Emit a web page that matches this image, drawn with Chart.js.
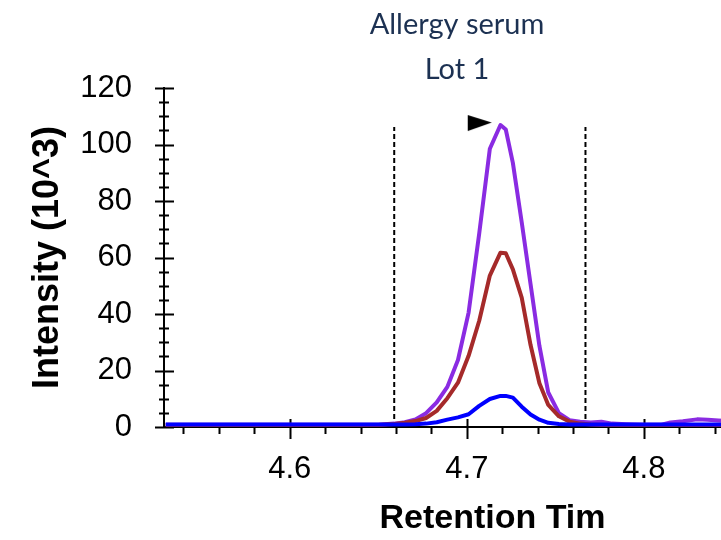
<!DOCTYPE html>
<html>
<head>
<meta charset="utf-8">
<script src="https://cdn.jsdelivr.net/npm/chart.js@4"></script>
<style>
  html, body { margin: 0; padding: 0; background: #fff; overflow: hidden; }
  #wrap { width: 914px; height: 540px; }
</style>
</head>
<body>
<div id="wrap"><canvas id="chromatogram" width="914" height="540"></canvas></div>
<script>
// retention time (min) and intensity (10^3)
const times = [4.530, 4.545, 4.560, 4.575, 4.590, 4.605, 4.620, 4.635, 4.650, 4.659,
  4.665, 4.671, 4.677, 4.683, 4.689, 4.695, 4.701, 4.707, 4.713, 4.719,
  4.722, 4.726, 4.731, 4.736, 4.741, 4.746, 4.752, 4.758, 4.764, 4.770,
  4.776, 4.782, 4.790, 4.800, 4.810, 4.815, 4.822, 4.830, 4.836, 4.842,
  4.850, 4.865, 4.880, 4.900];
const violetTrace = [0.8, 0.8, 0.8, 0.8, 0.8, 0.8, 0.8, 0.8, 0.8, 1.2,
  1.7, 2.7, 4.9, 8.7, 14.2, 23.7, 40.5, 68.5, 98.5, 106.9,
  105.3, 93.5, 72.5, 50.5, 28.7, 12.2, 4.9, 2.4, 1.9, 1.6,
  1.9, 1.2, 1.0, 0.8, 0.8, 1.6, 2.0, 2.7, 2.6, 2.3,
  2.0, 1.6, 1.3, 1.0];
const brownTrace = [0.7, 0.7, 0.7, 0.7, 0.7, 0.7, 0.7, 0.7, 0.7, 1.1,
  1.5, 2.1, 3.2, 5.7, 10.2, 15.7, 25.2, 37.6, 53.6, 61.7,
  61.5, 55.8, 45.8, 29.0, 15.5, 7.8, 3.8, 1.9, 1.2, 0.9,
  0.7, 0.7, 0.7, 0.7, 0.7, 0.7, 0.7, 0.7, 0.7, 0.7,
  0.7, 0.7, 0.7, 0.7];
const blueTrace = [0.9, 0.9, 0.9, 0.9, 0.9, 0.9, 0.9, 0.9, 0.9, 0.9,
  0.9, 1.0, 1.2, 1.7, 2.6, 3.4, 4.5, 7.5, 9.9, 11.0,
  11.0, 10.4, 7.2, 4.4, 2.6, 1.5, 1.1, 0.9, 0.9, 0.9,
  0.9, 0.9, 0.9, 0.9, 0.9, 0.9, 0.9, 0.9, 0.9, 0.9,
  0.9, 0.9, 0.9, 0.9];

// integration boundaries and apex marker
const boundaryTimes = [4.659, 4.767];
const boundaryTop = 106.2;
const apexMarker = { t: 4.7073, v: 107.6 };

const xTicks = [4.6, 4.7, 4.8, 4.9];
const yTicks = [0, 20, 40, 60, 80, 100, 120];
const titleLines = ["Allergy serum", "Lot 1"];

const toPoints = (vals) => vals.map((v, i) => ({ x: times[i], y: v }));

// flat right-pointing triangle for the apex
const tri = document.createElement("canvas");
tri.width = 26; tri.height = 18;
(() => {
  const c = tri.getContext("2d");
  c.fillStyle = "#000";
  c.beginPath();
  c.moveTo(1, 1);
  c.lineTo(25, 8.5);
  c.lineTo(1, 17);
  c.closePath();
  c.fill();
})();

// tick marks crossing the axes, like the instrument software draws them
const axisTicks = {
  id: "axisTicks",
  beforeDatasetsDraw(chart) {
    const { ctx, scales: { x, y } } = chart;
    const ax = chart.chartArea.left, ay = chart.chartArea.bottom;
    ctx.save();
    ctx.strokeStyle = "#000";
    ctx.lineWidth = 2;
    ctx.beginPath();
    for (let v = 0; v <= 120; v += 5) {
      const py = Math.round(y.getPixelForValue(v)) + 0.5;
      const major = yTicks.includes(v);
      ctx.moveTo(ax - (major ? 9 : 5), py);
      ctx.lineTo(ax + (major ? 10 : 5), py);
    }
    for (let k = 227; k <= 245; k++) {
      const v = k / 50;
      const px = Math.round(x.getPixelForValue(v)) + 0.5;
      const major = k % 5 === 0;
      ctx.moveTo(px, ay + (major ? -8 : 1));
      ctx.lineTo(px, ay + (major ? 12 : 7));
    }
    ctx.stroke();
    ctx.restore();
  }
};

const boundary = (t) => ({
  data: [{ x: t, y: 0 }, { x: t, y: boundaryTop }],
  borderColor: "#000",
  borderWidth: 2,
  borderDash: [5, 3],
  pointRadius: 0
});

new Chart(document.getElementById("chromatogram"), {
  type: "line",
  data: {
    datasets: [
      { data: [{ x: apexMarker.t, y: apexMarker.v }], showLine: false,
        pointStyle: tri, pointRadius: 10 },
      { data: toPoints(blueTrace), borderColor: "#0000ff", borderWidth: 4, pointRadius: 0 },
      { data: toPoints(brownTrace), borderColor: "#a52a2a", borderWidth: 4, pointRadius: 0 },
      { data: toPoints(violetTrace), borderColor: "#8a2be2", borderWidth: 4, pointRadius: 0 },
      boundary(boundaryTimes[0]),
      boundary(boundaryTimes[1])
    ]
  },
  options: {
    responsive: false,
    animation: false,
    events: [],
    elements: { line: { tension: 0, borderJoinStyle: "round" } },
    plugins: {
      legend: { display: false },
      tooltip: { enabled: false },
      title: {
        display: true,
        text: titleLines,
        color: "#1c3152",
        font: { family: "Lato", size: 29, weight: "normal", lineHeight: "45px" },
        padding: { top: 2, bottom: -4 }
      }
    },
    scales: {
      x: {
        type: "linear",
        min: 4.529,
        max: 4.9,
        afterBuildTicks: (s) => { s.ticks = xTicks.map((v) => ({ value: v })); },
        afterFit: (s) => { s.height = 113; },
        grid: { display: false, drawTicks: false },
        border: { color: "#000", width: 2 },
        ticks: {
          color: "#000",
          padding: 24,
          maxRotation: 0,
          font: { family: "Liberation Sans", size: 31 },
          callback: (v) => Number(v).toFixed(1)
        },
        title: {
          display: true,
          text: "Retention Tim",
          color: "#000",
          font: { family: "Liberation Sans", size: 34, weight: "bold" },
          padding: { top: 0, bottom: 1 }
        }
      },
      y: {
        min: 0,
        max: 120,
        afterBuildTicks: (s) => { s.ticks = yTicks.map((v) => ({ value: v })); },
        afterFit: (s) => { s.width = 164; },
        grid: { display: false, drawTicks: false },
        border: { color: "#000", width: 2 },
        ticks: {
          color: "#000",
          padding: 32,
          font: { family: "Liberation Sans", size: 31 }
        },
        title: {
          display: true,
          text: "Intensity (10^3)",
          color: "#000",
          font: { family: "Liberation Sans", size: 36, weight: "bold" },
          padding: { top: 26, bottom: 0 }
        }
      },
      spacer: {
        type: "linear",
        position: "right",
        afterFit: (s) => { s.width = 93; },
        grid: { display: false },
        border: { display: false },
        ticks: { display: false }
      }
    }
  },
  plugins: [axisTicks]
});
</script>
</body>
</html>
